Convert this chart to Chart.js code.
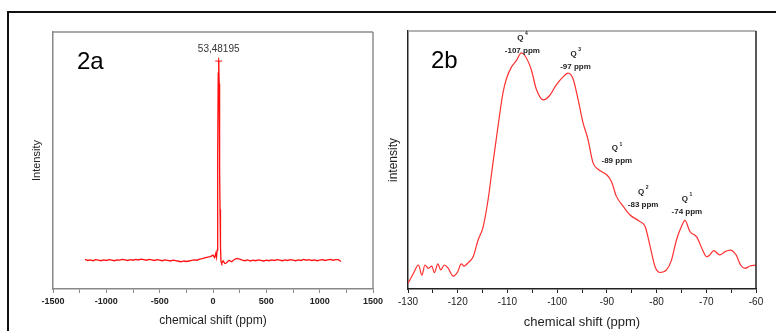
<!DOCTYPE html>
<html>
<head>
<meta charset="utf-8">
<script src="https://cdn.jsdelivr.net/npm/chart.js@4.4.1/dist/chart.umd.min.js"></script>
<style>
  body { margin: 0; width: 776px; height: 331px; overflow: hidden; background: #fff; position: relative; }
  #frame { position: absolute; left: 7px; top: 11px; width: 820px; height: 400px; border: 2px solid #111; }
  .panel { position: absolute; top: 0; }
  #chartA { left: 0; }
  #chartB { left: 388px; }
</style>
</head>
<body>
<div id="frame"></div>
<canvas id="chartA" class="panel" width="388" height="331"></canvas>
<canvas id="chartB" class="panel" width="388" height="331"></canvas>
<script>
// ---- 2a: 29Si spectrum, full sweep ----
const shiftA = [-1200, -1175, -1150, -1125, -1100, -1075, -1050, -1025, -1000, -975, -950, -925, -900, -875, -850, -825, -800, -775, -750, -725, -700, -675, -650, -625, -600, -575, -550, -525, -500, -475, -450, -425, -400, -375, -350, -325, -300, -275, -250, -225, -200, -175, -150, -125, -100, -75, -50, -25, 0, 15, 26, 33, 38, 44, 49, 53.48, 58, 62, 66, 70, 75, 82, 95, 110, 125, 150, 175, 200, 225, 250, 275, 300, 325, 350, 375, 400, 425, 450, 475, 500, 525, 550, 575, 600, 625, 650, 675, 700, 725, 750, 775, 800, 825, 850, 875, 900, 925, 950, 975, 1000, 1025, 1050, 1075, 1100, 1125, 1150, 1175, 1200];
const intensityA = [11.5, 11.1, 11.3, 11.0, 11.4, 11.2, 11.0, 11.3, 11.1, 11.4, 11.2, 11.0, 11.3, 11.2, 11.5, 11.3, 11.1, 11.4, 11.2, 11.5, 11.3, 11.6, 11.4, 11.2, 11.5, 11.3, 11.1, 11.4, 11.2, 11.0, 11.3, 11.1, 10.9, 11.2, 11.0, 10.8, 10.6, 10.9, 10.7, 10.9, 11.1, 11.3, 11.2, 11.6, 11.8, 12.1, 12.4, 12.6, 13.2, 12.2, 13.8, 12.4, 15, 52, 84, 88.7, 80, 46, 31, 17, 10.6, 10.0, 11.0, 9.9, 10.1, 11.2, 10.6, 11.5, 11.9, 11.6, 11.2, 11.0, 11.3, 10.9, 11.2, 11.0, 11.3, 11.1, 10.9, 11.2, 11.0, 11.3, 11.1, 11.4, 11.2, 11.0, 11.3, 11.1, 11.4, 11.2, 11.0, 11.3, 11.1, 11.5, 11.2, 11.4, 11.1, 11.3, 11.0, 11.2, 11.4, 11.1, 11.3, 11.5, 11.2, 11.4, 11.4, 10.7];
const peakA = { shift: 53.48, value: 88.7, label: '53,48195' };
const ticksA = { min: -1500, max: 1500, step: 250, labelEvery: 500 };

// ---- 2b: zoom on the Q region ----
const shiftB = [-130, -128.9, -127.9, -127.2, -126.6, -125.9, -125.2, -124.7, -124.0, -123.4, -122.7, -121.9, -120.9, -120.0, -119.3, -118.7, -117.9, -116.9, -115.9, -114.9, -113.9, -112.9, -111.9, -110.9, -110.2, -109.2, -108.2, -107.2, -106.5, -105.2, -104.2, -102.8, -101.5, -100.2, -98.9, -97.8, -96.8, -95.8, -94.8, -93.8, -92.8, -91.7, -90.1, -89.1, -88.1, -86.7, -85.4, -83.4, -82.3, -81.3, -80.3, -79.3, -78.0, -77.0, -76.0, -75.0, -74.3, -73.3, -71.9, -70.9, -69.9, -69.3, -68.5, -67.3, -66.2, -65.2, -64.0, -63.1, -62.2, -61.2, -60];
const intensityB = [2.2, 6.1, 9.3, 5.4, 9.3, 8.0, 8.9, 6.3, 9.7, 7.4, 9.3, 8.0, 5.0, 6.7, 9.7, 8.9, 10.2, 12.5, 19, 24, 34.5, 49, 63, 76, 81.5, 86, 88.5, 91.5, 90.5, 85, 77.5, 73.3, 75, 79, 82, 83.7, 81.5, 73.6, 64.5, 58, 49, 46.3, 44.4, 41.8, 36, 32, 28.8, 26.2, 24.2, 16.5, 8.6, 6.4, 7.4, 11.2, 19, 24.2, 26.6, 22.3, 20.1, 15.8, 12.5, 13.2, 14.9, 13.2, 14.5, 15.1, 13.2, 9.3, 8.0, 8.9, 9.3];
const siteNames = ['4', '3', '1', '2', '1'];
const siteLabels = ['-107 ppm', '-97 ppm', '-89 ppm', '-83 ppm', '-74 ppm'];
const siteLabelShift = [-107, -96.3, -88, -82.7, -73.9];
const siteLabelLevel = [92.2, 86.0, 49.5, 32.8, 30.1];
const ticksB = { min: -130, max: -60, step: 5, labelEvery: 10 };

const toPoints = (xs, ys) => xs.map((x, i) => ({ x: x, y: ys[i] }));

// marco superior/derecho del area de trazado + rotulo del panel
const frameAndTag = (tag, topColor, rightColor, extra) => ({
    id: 'frameAndTag' + tag,
    afterDatasetsDraw(chart) {
        const { ctx, chartArea: a } = chart;
        ctx.save();
        ctx.lineWidth = 1.5;
        ctx.strokeStyle = topColor;
        ctx.beginPath();
        ctx.moveTo(a.left, a.top);
        ctx.lineTo(a.right, a.top);
        ctx.stroke();
        ctx.strokeStyle = rightColor;
        ctx.beginPath();
        ctx.moveTo(a.right, a.top);
        ctx.lineTo(a.right, a.bottom);
        ctx.stroke();
        ctx.fillStyle = '#000';
        ctx.font = '24px Arial, "Liberation Sans"';
        ctx.textBaseline = 'alphabetic';
        ctx.textAlign = 'left';
        ctx.fillText(tag, a.left + (tag === '2a' ? 24 : 23), a.top + 37);
        extra(chart, ctx);
        ctx.restore();
    }
});

const xAxis = (t, color, font, height) => ({
    type: 'linear',
    min: t.min,
    max: t.max,
    afterFit: (scale) => { scale.height = height; },
    border: { display: true, color: color, width: 1.5 },
    grid: { drawOnChartArea: false, drawTicks: true, tickLength: 4, tickColor: color },
    ticks: {
        stepSize: t.step,
        autoSkip: false,
        maxRotation: 0,
        padding: 3,
        color: '#222',
        font: font,
        callback: (v) => (v % t.labelEvery === 0 ? String(v) : '')
    },
    title: {
        display: true,
        text: 'chemical shift (ppm)',
        color: '#222',
        padding: 0,
        font: { family: 'Arial, "Liberation Sans"', size: font.titleSize, lineHeight: 1 }
    }
});

const yAxis = (label, color, width, size) => ({
    type: 'linear',
    min: 0,
    max: 100,
    afterFit: (scale) => { scale.width = width; },
    border: { display: true, color: color, width: 1.5 },
    grid: { drawOnChartArea: false, drawTicks: false },
    ticks: { display: false },
    title: {
        display: true,
        text: label,
        color: '#222',
        padding: 0,
        font: { family: 'Arial, "Liberation Sans"', size: size, lineHeight: 1 }
    }
});

new Chart(document.getElementById('chartA'), {
    type: 'line',
    data: {
        datasets: [{
            data: toPoints(shiftA, intensityA),
            borderColor: '#ff1010',
            borderWidth: 1.3,
            pointRadius: 0,
            tension: 0
        }, {
            data: [{ x: peakA.shift, y: peakA.value }],
            borderColor: '#ff1010',
            pointStyle: 'cross',
            pointRadius: 3.5,
            pointBorderWidth: 1,
            showLine: false
        }]
    },
    options: {
        responsive: false,
        animation: false,
        layout: { padding: { top: 32, left: 31, right: 15, bottom: 4 } },
        plugins: { legend: { display: false }, tooltip: { enabled: false } },
        scales: {
            x: xAxis(ticksA, '#888', { family: 'Arial, "Liberation Sans"', size: 9, weight: 'bold', titleSize: 12 }, 38),
            y: yAxis('Intensity', '#888', 22, 11)
        }
    },
    plugins: [frameAndTag('2a', '#8c8c8c', '#8c8c8c', (chart, ctx) => {
        const { x, y } = chart.scales;
        ctx.fillStyle = '#333';
        ctx.font = '10px Arial, "Liberation Sans"';
        ctx.textAlign = 'center';
        ctx.textBaseline = 'middle';
        ctx.fillText(peakA.label, x.getPixelForValue(peakA.shift), y.getPixelForValue(peakA.value) - 12);
    })]
});

new Chart(document.getElementById('chartB'), {
    type: 'line',
    data: {
        datasets: [{
            data: toPoints(shiftB, intensityB),
            borderColor: '#ff3030',
            borderWidth: 1.2,
            pointRadius: 0,
            cubicInterpolationMode: 'monotone'
        }]
    },
    options: {
        responsive: false,
        animation: false,
        layout: { padding: { top: 31, left: 0, right: 20, bottom: 2 } },
        plugins: { legend: { display: false }, tooltip: { enabled: false } },
        scales: {
            x: xAxis(ticksB, '#222', { family: 'Arial, "Liberation Sans"', size: 10, titleSize: 13 }, 40),
            y: yAxis('intensity', '#222', 20, 12)
        }
    },
    plugins: [frameAndTag('2b', '#999', '#222', (chart, ctx) => {
        const { x, y } = chart.scales;
        ctx.fillStyle = '#222';
        ctx.textBaseline = 'middle';
        siteLabels.forEach((txt, i) => {
            const px = x.getPixelForValue(siteLabelShift[i]);
            const py = y.getPixelForValue(siteLabelLevel[i]);
            ctx.textAlign = 'center';
            ctx.font = 'bold 8px Arial, "Liberation Sans"';
            ctx.fillText(txt, px, py);
            ctx.fillText('Q', px - 2, py - 13);
            ctx.font = 'bold 5px Arial, "Liberation Sans"';
            ctx.fillText(siteNames[i], px + 4, py - 17);
        });
    })]
});
</script>
</body>
</html>
